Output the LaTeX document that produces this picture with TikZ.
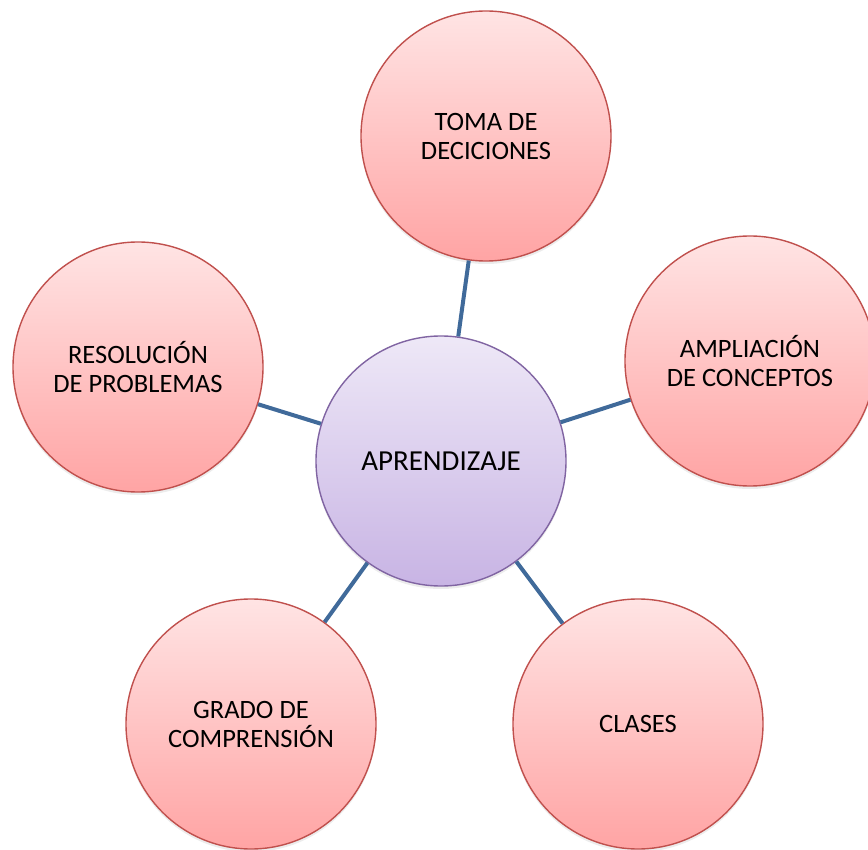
\documentclass[tikz,border=0pt]{standalone}
\usepackage{fontspec}
\setmainfont{Carlito}
\usetikzlibrary{positioning}
\usetikzlibrary{shadows}
\definecolor{idea-red}{RGB}{192, 80, 77}
\definecolor{idea-top}{RGB}{255, 228, 228}
\definecolor{idea-bottom}{RGB}{255, 164, 164}
\definecolor{core-violet}{RGB}{128, 100, 162}
\definecolor{core-top}{RGB}{238, 232, 247}
\definecolor{core-bottom}{RGB}{200, 180, 228}
\definecolor{link-blue}{RGB}{64, 106, 154}

\tikzset{
  idea/.style={circle, minimum size=250pt, inner sep=0pt, draw=idea-red, line width=1.4pt,
    top color=idea-top, bottom color=idea-bottom, align=center,
    drop shadow={shadow xshift=0pt, shadow yshift=-3pt, opacity=0.15},
    font=\fontsize{26.5}{29}\selectfont},
  core/.style={circle, minimum size=250pt, inner sep=0pt, draw=core-violet, line width=1.4pt,
    top color=core-top, bottom color=core-bottom, align=center,
    drop shadow={shadow xshift=0pt, shadow yshift=-3pt, opacity=0.15},
    font=\fontsize{29}{32}\selectfont},
  link/.style={draw=link-blue, line width=4pt}
}

\begin{document}
\begin{tikzpicture}[x=1pt, y=-1pt]
    \useasboundingbox (0, 0) rectangle (868, 850);
    \clip (0, 0) rectangle (868, 850);
    % outer ideas
    \node[idea] (toma) at (486, 136) {TOMA DE\\DECICIONES};
    \node[idea] (ampliacion) at (750, 361) {AMPLIACIÓN\\DE CONCEPTOS};
    \node[idea] (resolucion) at (138, 367) {RESOLUCIÓN\\DE PROBLEMAS};
    \node[idea] (grado) at (251, 724) {GRADO DE\\COMPRENSIÓN};
    \node[idea] (clases) at (638, 724) {CLASES};
    % centre
    \node[core] (aprendizaje) at (441, 461) {APRENDIZAJE};
    % links
    \foreach \n in {toma, ampliacion, resolucion, grado, clases}
        \draw[link] (aprendizaje) -- (\n);
\end{tikzpicture}
\end{document}
